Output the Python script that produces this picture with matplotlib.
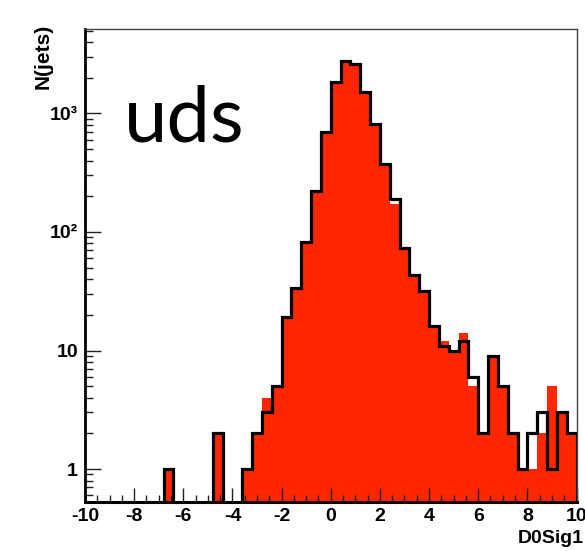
import matplotlib
matplotlib.use("Agg")
import matplotlib.pyplot as plt
import numpy as np

# bin edges of the D0Sig1 histogram (50 bins of 0.4)
edges = np.linspace(-10, 10, 51)

# black outline histogram (counts per bin, left to right)
black_counts = [0, 0, 0, 0, 0, 0, 0, 0, 1, 0,
                0, 0, 0, 2, 0, 0, 1, 2, 3, 5,
                19, 34, 83, 222, 697, 1840, 2760, 2620, 1525, 809,
                377, 190, 73, 43, 32, 16, 11, 10, 12, 6,
                2, 9, 5, 2, 1, 2, 3, 1, 3, 2]

# red filled histogram
red_counts = [0, 0, 0, 0, 0, 0, 0, 0, 1, 0,
              0, 0, 0, 2, 0, 0, 1, 2, 4, 5,
              19, 34, 83, 222, 697, 1840, 2760, 2620, 1525, 809,
              377, 172, 73, 43, 32, 16, 12, 10, 14, 5,
              2, 9, 5, 2, 1, 1, 2, 5, 3, 2]

x_ticks = [-10, -8, -6, -4, -2, 0, 2, 4, 6, 8, 10]
x_ticklabels = ["-10", "-8", "-6", "-4", "-2", "0", "2", "4", "6", "8", "10"]
y_ticks = [1, 10, 100, 1000]
y_ticklabels = ["1", "10", "10²", "10³"]

W, H = 585, 551
fig = plt.figure(figsize=(W / 100, H / 100), dpi=100)
ax = fig.add_axes([85 / W, 1 - 502 / H, 491.5 / W, 473 / H])

ax.set_yscale("log", nonpositive="clip")
ax.stairs(red_counts, edges, fill=True, color="#ff2600", baseline=0)
ax.stairs(black_counts, edges, color="black", lw=2.3)

ax.set_xticks(x_ticks)
ax.set_xticklabels(x_ticklabels)
ax.set_xticks(np.arange(-10, 10.01, 0.5), minor=True)
ax.set_yticks(y_ticks)
ax.set_yticklabels(y_ticklabels)
ax.set_yticks([m * 10.0 ** d for d in range(-1, 4) for m in range(2, 10)], minor=True)
ax.yaxis.set_minor_formatter(plt.NullFormatter())

# limits after the ticks, set_ticks would widen them otherwise
ax.set_xlim(-10, 10)
ax.set_ylim(0.527, 5160)

ax.tick_params(axis="both", which="both", direction="in", width=1, color="#222222")
ax.tick_params(axis="x", which="major", length=10, pad=4)
ax.tick_params(axis="x", which="minor", length=5)
ax.tick_params(axis="y", which="major", length=11.5, pad=5)
ax.tick_params(axis="y", which="minor", length=5.8)
for lab in ax.get_xticklabels() + ax.get_yticklabels():
    lab.set_fontfamily("Liberation Sans")
    lab.set_fontweight("bold")
    lab.set_fontsize(14)

ax.spines["left"].set_linewidth(2)
ax.spines["bottom"].set_linewidth(2.2)
ax.spines["top"].set_linewidth(1)
ax.spines["top"].set_color("#444444")
ax.spines["right"].set_linewidth(1)
ax.spines["right"].set_color("#444444")

fig.text(43 / W, 1 - 24 / H, "N(jets)", rotation=90, ha="center", va="top",
         fontsize=15, fontweight="bold", family="Liberation Sans")
fig.text(584 / W, 1 - 543 / H, "D0Sig1", ha="right", va="baseline",
         fontsize=14, fontweight="bold", family="Liberation Sans")
fig.text(124 / W, 1 - 142 / H, "uds", ha="left", va="baseline",
         fontsize=56, family="Lato")

fig.savefig("out.png", dpi=100)
